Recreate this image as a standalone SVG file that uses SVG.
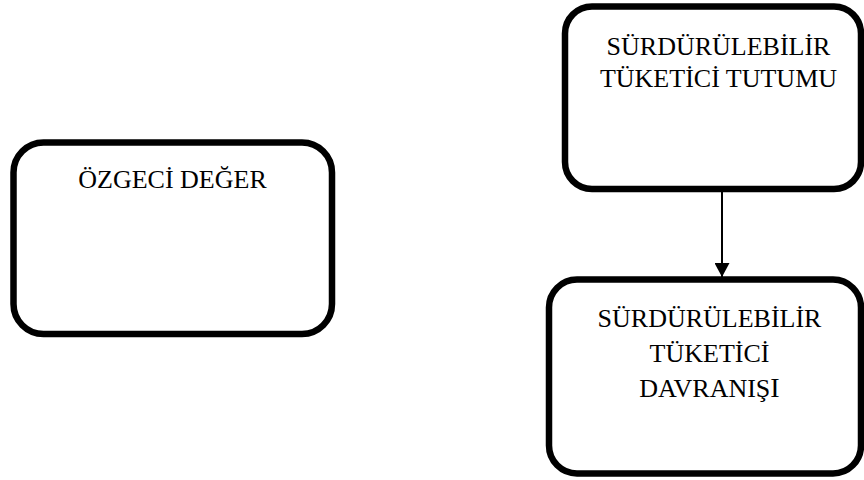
<svg xmlns="http://www.w3.org/2000/svg" width="864" height="480" viewBox="0 0 864 480">
  <style>
    .box { fill: #ffffff; stroke: #000000; stroke-width: 6.5; }
    .label { font-family: "Liberation Serif", "Times New Roman", serif; font-size: 26px; fill: #000000; text-anchor: middle; }
    .edge { stroke: #000000; stroke-width: 2; fill: none; }
  </style>
  <defs>
    <marker id="arrow" markerWidth="14" markerHeight="15" refX="14" refY="7.5" orient="auto" markerUnits="userSpaceOnUse">
      <path d="M0,0 L14,7.5 L0,15 Z" fill="#000000"/>
    </marker>
  </defs>
  <rect width="864" height="480" fill="#ffffff"/>

  <g id="ozgeci-deger">
    <rect class="box" x="13.5" y="142.5" width="318.5" height="191.5" rx="30" ry="30"/>
    <text class="label" x="172.5" y="188">ÖZGECİ DEĞER</text>
  </g>

  <g id="tuketici-tutumu">
    <rect class="box" x="565" y="6.5" width="296" height="182.5" rx="27" ry="27"/>
    <text class="label" x="718.5" y="55">SÜRDÜRÜLEBİLİR</text>
    <text class="label" x="718.5" y="87">TÜKETİCİ TUTUMU</text>
  </g>

  <g id="tuketici-davranisi">
    <rect class="box" x="549" y="279.5" width="312" height="194" rx="28" ry="28"/>
    <text class="label" x="709.5" y="327">SÜRDÜRÜLEBİLİR</text>
    <text class="label" x="709.5" y="362">TÜKETİCİ</text>
    <text class="label" x="709.5" y="397">DAVRANIŞ<tspan font-size="28">I</tspan></text>
  </g>

  <g id="connectors">
    <line class="edge" x1="722" y1="192" x2="722" y2="277" marker-end="url(#arrow)"/>
  </g>
</svg>
